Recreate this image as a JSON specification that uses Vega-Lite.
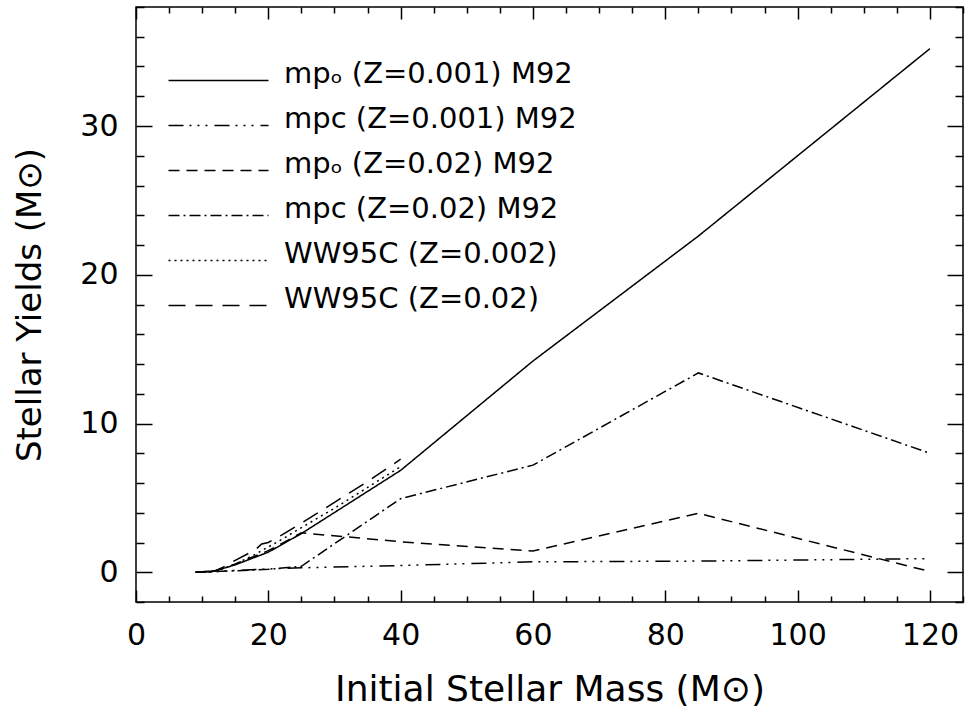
{
  "$schema": "https://vega.github.io/schema/vega-lite/v6.json",
  "autosize": "none",
  "width": 827,
  "height": 595,
  "padding": {"left": 136, "top": 7, "right": 6, "bottom": 113},
  "background": "white",
  "config": {
    "view": {"stroke": "black", "strokeWidth": 1.5},
    "font": "DejaVu Sans",
    "axis": {
      "domain": false, "grid": false, "tickColor": "black", "tickWidth": 1.5,
      "labelColor": "black", "titleColor": "black", "labelFont": "DejaVu Sans",
      "titleFont": "DejaVu Sans", "titleFontWeight": "normal", "labelFlush": false,
      "labelOverlap": false
    }
  },
  "data": {
    "values": [
      {"series": "mpₒ (Z=0.001) M92", "m": 9, "y": 0.0},
      {"series": "mpₒ (Z=0.001) M92", "m": 12, "y": 0.1},
      {"series": "mpₒ (Z=0.001) M92", "m": 15, "y": 0.5},
      {"series": "mpₒ (Z=0.001) M92", "m": 20, "y": 1.35},
      {"series": "mpₒ (Z=0.001) M92", "m": 25, "y": 2.6},
      {"series": "mpₒ (Z=0.001) M92", "m": 40, "y": 6.85},
      {"series": "mpₒ (Z=0.001) M92", "m": 60, "y": 14.2},
      {"series": "mpₒ (Z=0.001) M92", "m": 85, "y": 22.6},
      {"series": "mpₒ (Z=0.001) M92", "m": 120, "y": 35.2},
      {"series": "mpc (Z=0.001) M92", "m": 9, "y": 0.0},
      {"series": "mpc (Z=0.001) M92", "m": 12, "y": 0.05},
      {"series": "mpc (Z=0.001) M92", "m": 15, "y": 0.12},
      {"series": "mpc (Z=0.001) M92", "m": 20, "y": 0.22},
      {"series": "mpc (Z=0.001) M92", "m": 25, "y": 0.3},
      {"series": "mpc (Z=0.001) M92", "m": 40, "y": 0.45},
      {"series": "mpc (Z=0.001) M92", "m": 60, "y": 0.7},
      {"series": "mpc (Z=0.001) M92", "m": 85, "y": 0.75},
      {"series": "mpc (Z=0.001) M92", "m": 120, "y": 0.92},
      {"series": "mpₒ (Z=0.02) M92", "m": 9, "y": 0.0},
      {"series": "mpₒ (Z=0.02) M92", "m": 12, "y": 0.1},
      {"series": "mpₒ (Z=0.02) M92", "m": 15, "y": 0.55},
      {"series": "mpₒ (Z=0.02) M92", "m": 20, "y": 1.45},
      {"series": "mpₒ (Z=0.02) M92", "m": 25, "y": 2.65},
      {"series": "mpₒ (Z=0.02) M92", "m": 40, "y": 2.05},
      {"series": "mpₒ (Z=0.02) M92", "m": 60, "y": 1.43},
      {"series": "mpₒ (Z=0.02) M92", "m": 85, "y": 3.96},
      {"series": "mpₒ (Z=0.02) M92", "m": 120, "y": 0.05},
      {"series": "mpc (Z=0.02) M92", "m": 9, "y": 0.0},
      {"series": "mpc (Z=0.02) M92", "m": 12, "y": 0.05},
      {"series": "mpc (Z=0.02) M92", "m": 15, "y": 0.1},
      {"series": "mpc (Z=0.02) M92", "m": 20, "y": 0.2},
      {"series": "mpc (Z=0.02) M92", "m": 25, "y": 0.4},
      {"series": "mpc (Z=0.02) M92", "m": 40, "y": 4.95},
      {"series": "mpc (Z=0.02) M92", "m": 60, "y": 7.2},
      {"series": "mpc (Z=0.02) M92", "m": 85, "y": 13.4},
      {"series": "mpc (Z=0.02) M92", "m": 120, "y": 8.0},
      {"series": "WW95C (Z=0.002)", "m": 11, "y": 0.0},
      {"series": "WW95C (Z=0.002)", "m": 12, "y": 0.1},
      {"series": "WW95C (Z=0.002)", "m": 13, "y": 0.2},
      {"series": "WW95C (Z=0.002)", "m": 15, "y": 0.55},
      {"series": "WW95C (Z=0.002)", "m": 18, "y": 1.2},
      {"series": "WW95C (Z=0.002)", "m": 19, "y": 1.45},
      {"series": "WW95C (Z=0.002)", "m": 20, "y": 1.7},
      {"series": "WW95C (Z=0.002)", "m": 22, "y": 2.2},
      {"series": "WW95C (Z=0.002)", "m": 25, "y": 3.0},
      {"series": "WW95C (Z=0.002)", "m": 30, "y": 4.3},
      {"series": "WW95C (Z=0.002)", "m": 35, "y": 5.7},
      {"series": "WW95C (Z=0.002)", "m": 40, "y": 7.1},
      {"series": "WW95C (Z=0.02)", "m": 11, "y": 0.0},
      {"series": "WW95C (Z=0.02)", "m": 12, "y": 0.1},
      {"series": "WW95C (Z=0.02)", "m": 13, "y": 0.3},
      {"series": "WW95C (Z=0.02)", "m": 15, "y": 0.8},
      {"series": "WW95C (Z=0.02)", "m": 18, "y": 1.5},
      {"series": "WW95C (Z=0.02)", "m": 19, "y": 1.9},
      {"series": "WW95C (Z=0.02)", "m": 20, "y": 2.0},
      {"series": "WW95C (Z=0.02)", "m": 22, "y": 2.5},
      {"series": "WW95C (Z=0.02)", "m": 25, "y": 3.3},
      {"series": "WW95C (Z=0.02)", "m": 30, "y": 4.7},
      {"series": "WW95C (Z=0.02)", "m": 35, "y": 6.1},
      {"series": "WW95C (Z=0.02)", "m": 40, "y": 7.6}
    ]
  },
  "resolve": {"axis": {"x": "independent", "y": "independent"}},
  "layer": [
    {
      "mark": {"type": "line", "color": "black", "strokeWidth": 1.5},
      "encoding": {
        "x": {"field": "m", "type": "quantitative",
          "scale": {"domain": [0, 125], "nice": false, "zero": false},
          "axis": {"orient": "bottom", "values": [0, 20, 40, 60, 80, 100, 120], "tickSize": -12,
            "labelPadding": 30, "labelFontSize": 30, "title": "Initial Stellar Mass (M⊙)",
            "titleFontSize": 36, "titlePadding": 22}},
        "y": {"field": "y", "type": "quantitative",
          "scale": {"domain": [-2, 38], "nice": false, "zero": false},
          "axis": {"orient": "left", "values": [0, 10, 20, 30], "tickSize": -16,
            "labelPadding": 34, "labelFontSize": 30, "title": "Stellar Yields (M⊙)",
            "titleFontSize": 34, "titlePadding": 32}},
        "strokeDash": {"field": "series", "type": "nominal",
          "scale": {
            "domain": ["mpₒ (Z=0.001) M92", "mpc (Z=0.001) M92", "mpₒ (Z=0.02) M92", "mpc (Z=0.02) M92", "WW95C (Z=0.002)", "WW95C (Z=0.02)"],
            "range": [[1, 0], [15, 6, 2, 6, 2, 6, 2, 7], [11, 7], [11, 4, 2, 4], [2, 4], [17, 10]]
          },
          "legend": {"title": null, "orient": "none", "legendX": 68, "legendY": 52,
            "symbolType": "M-5,0.7H5", "symbolSize": 400, "symbolStrokeWidth": 1.5,
            "symbolStrokeColor": "black", "symbolFillColor": "transparent",
            "labelFontSize": 29, "labelFont": "DejaVu Sans", "labelColor": "black",
            "rowPadding": 15, "labelOffset": 51, "padding": 0, "labelLimit": 0}
        }
      }
    },
    {
      "mark": {"type": "line", "opacity": 0},
      "encoding": {
        "x": {"field": "m", "type": "quantitative",
          "scale": {"domain": [0, 125], "nice": false, "zero": false},
          "axis": {"orient": "bottom", "values": [5, 10, 15, 25, 30, 35, 45, 50, 55, 65, 70, 75, 85, 90, 95, 105, 110, 115, 125],
            "tickSize": -6, "labels": false, "title": null}},
        "y": {"field": "y", "type": "quantitative",
          "scale": {"domain": [-2, 38], "nice": false, "zero": false},
          "axis": {"orient": "left", "values": [-2, 2, 4, 6, 8, 12, 14, 16, 18, 22, 24, 26, 28, 32, 34, 36, 38],
            "tickSize": -8, "labels": false, "title": null}},
        "detail": {"field": "series"}
      }
    },
    {
      "mark": {"type": "line", "opacity": 0},
      "encoding": {
        "x": {"field": "m", "type": "quantitative",
          "scale": {"domain": [0, 125], "nice": false, "zero": false},
          "axis": {"orient": "top", "values": [0, 20, 40, 60, 80, 100, 120],
            "tickSize": -12, "labels": false, "title": null}},
        "y": {"field": "y", "type": "quantitative",
          "scale": {"domain": [-2, 38], "nice": false, "zero": false},
          "axis": {"orient": "right", "values": [0, 10, 20, 30],
            "tickSize": -16, "labels": false, "title": null}},
        "detail": {"field": "series"}
      }
    },
    {
      "mark": {"type": "line", "opacity": 0},
      "encoding": {
        "x": {"field": "m", "type": "quantitative",
          "scale": {"domain": [0, 125], "nice": false, "zero": false},
          "axis": {"orient": "top", "values": [5, 10, 15, 25, 30, 35, 45, 50, 55, 65, 70, 75, 85, 90, 95, 105, 110, 115, 125],
            "tickSize": -6, "labels": false, "title": null}},
        "y": {"field": "y", "type": "quantitative",
          "scale": {"domain": [-2, 38], "nice": false, "zero": false},
          "axis": {"orient": "right", "values": [-2, 2, 4, 6, 8, 12, 14, 16, 18, 22, 24, 26, 28, 32, 34, 36, 38],
            "tickSize": -8, "labels": false, "title": null}},
        "detail": {"field": "series"}
      }
    }
  ]
}
